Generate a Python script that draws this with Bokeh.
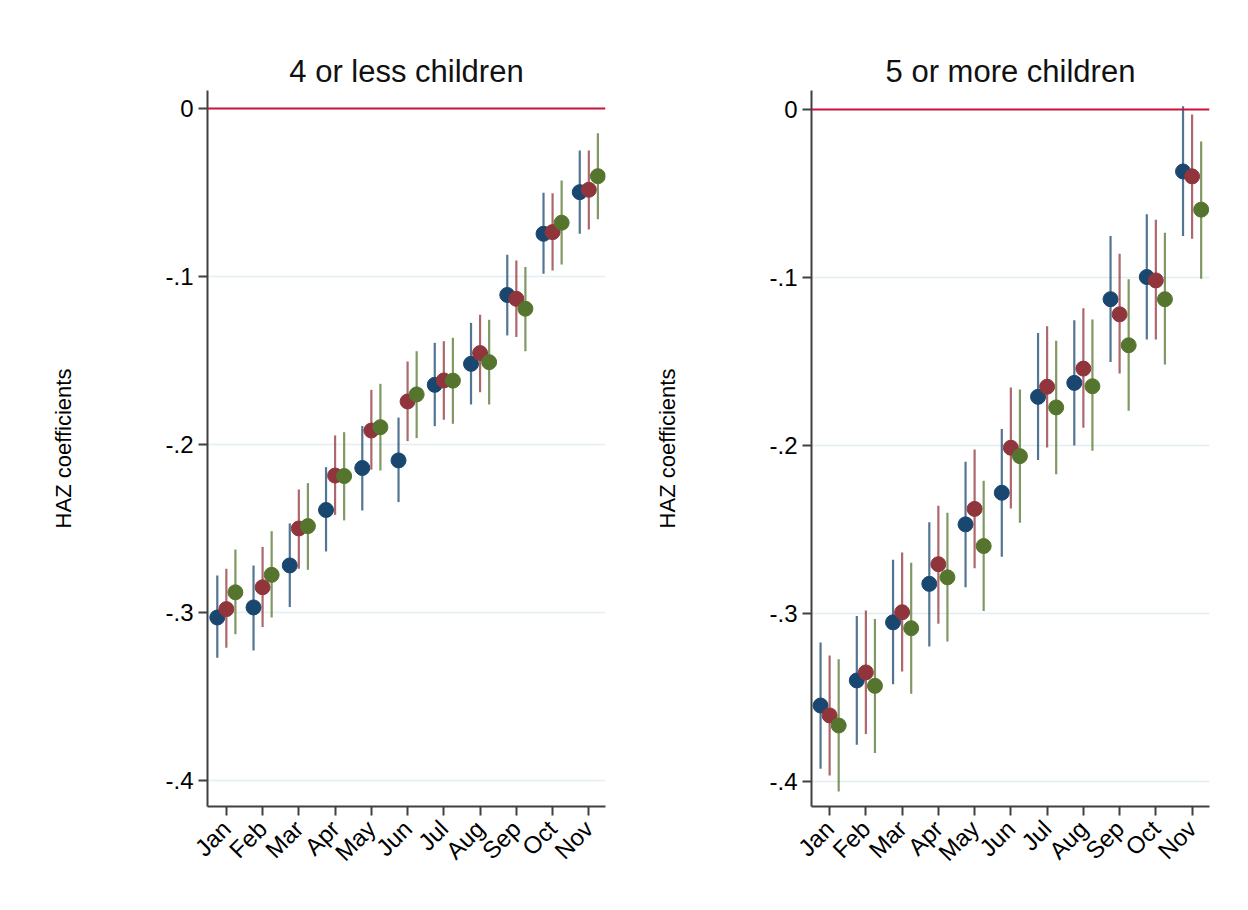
import math
from bokeh.plotting import figure
from bokeh.layouts import row
from bokeh.models import Range1d, FixedTicker, ColumnDataSource, Span
from bokeh.embed import file_html
from bokeh.resources import INLINE

# ---------------- data ----------------
months = ["Jan", "Feb", "Mar", "Apr", "May", "Jun", "Jul", "Aug", "Sep", "Oct", "Nov"]
month_pos = [1, 2, 3, 4, 5, 6, 7, 8, 9, 10, 11]
y_ticks = [0, -0.1, -0.2, -0.3, -0.4]
y_tick_labels = ["0", "-.1", "-.2", "-.3", "-.4"]
panel_titles = ["4 or less children", "5 or more children"]
y_label = "HAZ coefficients"
series_offsets = [-0.25, 0.0, 0.25]
series_colors = ["#1a476f", "#90353b", "#55752f"]

# Left panel: 4 or less children
left_s1_coef = [-0.303, -0.297, -0.272, -0.239, -0.214, -0.2095, -0.1645, -0.152, -0.111, -0.0746, -0.0498]
left_s1_hi = [-0.278, -0.272, -0.247, -0.2135, -0.189, -0.184, -0.1395, -0.1276, -0.0871, -0.0502, -0.025]
left_s1_lo = [-0.327, -0.3226, -0.2968, -0.2637, -0.2393, -0.2343, -0.1891, -0.1762, -0.1351, -0.0984, -0.0746]

left_s2_coef = [-0.298, -0.285, -0.250, -0.2185, -0.1917, -0.1744, -0.1619, -0.1456, -0.1133, -0.0736, -0.0484]
left_s2_hi = [-0.274, -0.261, -0.2268, -0.1946, -0.1675, -0.1506, -0.1385, -0.1228, -0.0905, -0.0504, -0.025]
left_s2_lo = [-0.321, -0.3087, -0.274, -0.2419, -0.215, -0.198, -0.1853, -0.1689, -0.1361, -0.0964, -0.072]

left_s3_coef = [-0.288, -0.2776, -0.2486, -0.2188, -0.1897, -0.1702, -0.162, -0.151, -0.1192, -0.068, -0.0403]
left_s3_hi = [-0.2625, -0.2516, -0.223, -0.1927, -0.1639, -0.1445, -0.1365, -0.1258, -0.0944, -0.0429, -0.0147]
left_s3_lo = [-0.313, -0.303, -0.2746, -0.2452, -0.2155, -0.1962, -0.1877, -0.1762, -0.1445, -0.0929, -0.066]

# Right panel: 5 or more children
right_s1_coef = [-0.3547, -0.3398, -0.3052, -0.2823, -0.2469, -0.2281, -0.171, -0.1627, -0.1129, -0.0997, -0.0369]
right_s1_hi = [-0.3172, -0.3014, -0.268, -0.2457, -0.2096, -0.1902, -0.133, -0.1254, -0.0753, -0.0624, 0.002]
right_s1_lo = [-0.3923, -0.378, -0.342, -0.3196, -0.2843, -0.2661, -0.2086, -0.2, -0.1502, -0.1369, -0.0753]

right_s2_coef = [-0.3606, -0.335, -0.2992, -0.2706, -0.2377, -0.2013, -0.165, -0.1542, -0.1219, -0.1017, -0.0398]
right_s2_hi = [-0.325, -0.2982, -0.2637, -0.2358, -0.2023, -0.1655, -0.129, -0.1183, -0.0858, -0.0656, -0.003]
right_s2_lo = [-0.3963, -0.3717, -0.3344, -0.3061, -0.273, -0.2374, -0.2011, -0.1894, -0.1571, -0.1369, -0.0769]

right_s3_coef = [-0.3666, -0.343, -0.3087, -0.2784, -0.2598, -0.2063, -0.1773, -0.1647, -0.1403, -0.1129, -0.0596]
right_s3_hi = [-0.3271, -0.3032, -0.2697, -0.24, -0.221, -0.1666, -0.1377, -0.125, -0.101, -0.0733, -0.019]
right_s3_lo = [-0.4058, -0.383, -0.3477, -0.3166, -0.2984, -0.2459, -0.217, -0.2031, -0.1793, -0.1518, -0.1007]

left_series = [(left_s1_coef, left_s1_lo, left_s1_hi),
               (left_s2_coef, left_s2_lo, left_s2_hi),
               (left_s3_coef, left_s3_lo, left_s3_hi)]
right_series = [(right_s1_coef, right_s1_lo, right_s1_hi),
                (right_s2_coef, right_s2_lo, right_s2_hi),
                (right_s3_coef, right_s3_lo, right_s3_hi)]

FONT = "Liberation Sans"
FIG_H = 908


def make_panel(title, series, border_left, border_right, x_start, y_start, y_end):
    p = figure(width=624, height=FIG_H, output_backend="svg", toolbar_location=None,
               x_range=Range1d(x_start, x_start + 10.98), y_range=Range1d(y_start, y_end),
               min_border_left=border_left, min_border_right=border_right,
               min_border_top=90, min_border_bottom=FIG_H - 806,
               background_fill_color="white", border_fill_color="white")
    p.outline_line_color = None
    p.title.text = title
    p.title.align = "center"
    p.title.text_font = FONT
    p.title.text_font_size = "31px"
    p.title.text_font_style = "normal"
    p.title.text_color = "#111111"
    p.title.standoff = 4

    # grid
    p.xgrid.visible = False
    p.ygrid.ticker = FixedTicker(ticks=[t for t in y_ticks if t != 0])
    p.ygrid.grid_line_color = "#e4eef1"
    p.ygrid.grid_line_width = 1.5

    # axes
    for ax in (p.xaxis[0], p.yaxis[0]):
        ax.axis_line_color = "#404040"
        ax.axis_line_width = 2
        ax.major_tick_line_color = "#404040"
        ax.major_tick_line_width = 2
        ax.major_tick_out = 9
        ax.major_tick_in = 0
        ax.minor_tick_line_color = None
        ax.major_label_text_font = FONT
        ax.major_label_text_font_size = "24px"
        ax.major_label_text_color = "#000000"

    p.yaxis.ticker = FixedTicker(ticks=y_ticks)
    p.yaxis.major_label_overrides = {t: l for t, l in zip(y_ticks, y_tick_labels)}
    p.yaxis.major_label_standoff = 5
    p.yaxis.axis_label = y_label
    p.yaxis.axis_label_text_font = FONT
    p.yaxis.axis_label_text_font_size = "22px"
    p.yaxis.axis_label_text_font_style = "normal"
    p.yaxis.axis_label_text_color = "#000000"
    p.yaxis.axis_label_standoff = 86

    p.xaxis.ticker = FixedTicker(ticks=month_pos)
    p.xaxis.major_label_overrides = {m: name for m, name in zip(month_pos, months)}
    p.xaxis.major_label_orientation = math.pi / 4
    p.xaxis.major_label_standoff = 9

    # zero line
    p.add_layout(Span(location=0, dimension="width", line_color="#c8143c", line_width=2))

    for (coef, lo, hi), off, col in zip(series, series_offsets, series_colors):
        src = ColumnDataSource(dict(x=[m + off for m in month_pos], coef=coef, lo=lo, hi=hi))
        p.segment(x0="x", y0="lo", x1="x", y1="hi", source=src,
                  line_color=col, line_width=2.2, line_alpha=0.75)
        p.scatter(x="x", y="coef", source=src, size=15, fill_color=col,
                  line_color=col, line_width=1)
    return p


p1 = make_panel(panel_titles[0], left_series, 207, 19, 0.48, -0.4155, 0.0107)
p2 = make_panel(panel_titles[1], right_series, 187, 39, 0.50, -0.4148, 0.0113)

layout = row(p1, p2)
open("out.html", "w").write(file_html(layout, INLINE))
